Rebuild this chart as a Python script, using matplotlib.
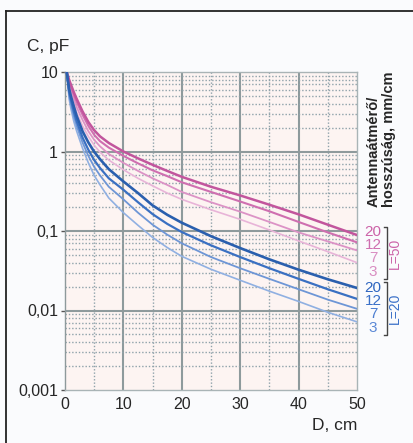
import matplotlib.pyplot as plt
from matplotlib.lines import Line2D
from matplotlib.ticker import FixedLocator, NullFormatter

plt.rcParams['font.family'] = ['Liberation Sans', 'DejaVu Sans']

# D distance, cm
D = [0.3, 0.7, 1, 1.5, 2, 3, 4, 5, 6, 7.5, 10, 12.5, 15, 17.5, 20, 25, 30, 35, 40, 45, 50]

# L=50 cm antenna, diameter 20/12/7/3 mm
L50_20 = [10, 8.0, 7.0, 5.6, 4.6, 3.2, 2.35, 1.85, 1.55, 1.28, 1.0, 0.82, 0.68, 0.57, 0.48,
          0.36, 0.28, 0.214, 0.162, 0.12, 0.089]
L50_12 = [10, 7.6, 6.6, 5.2, 4.2, 2.9, 2.1, 1.62, 1.35, 1.12, 0.88, 0.71, 0.58, 0.49, 0.41,
          0.31, 0.235, 0.177, 0.13, 0.096, 0.072]
L50_7 = [10, 7.0, 6.0, 4.6, 3.6, 2.5, 1.8, 1.4, 1.16, 0.93, 0.72, 0.57, 0.46, 0.38, 0.31,
         0.23, 0.175, 0.13, 0.096, 0.074, 0.057]
L50_3 = [10, 6.4, 5.4, 4.0, 3.1, 2.1, 1.55, 1.2, 0.98, 0.78, 0.59, 0.46, 0.37, 0.30, 0.25,
         0.185, 0.14, 0.103, 0.075, 0.055, 0.040]

# L=20 cm antenna
L20_20 = [10, 6.2, 5.0, 3.7, 2.8, 1.8, 1.3, 0.99, 0.80, 0.60, 0.42, 0.30, 0.21, 0.16, 0.127,
          0.086, 0.061, 0.044, 0.0326, 0.0247, 0.0192]
L20_12 = [10, 5.7, 4.5, 3.2, 2.4, 1.5, 1.05, 0.78, 0.62, 0.46, 0.33, 0.23, 0.163, 0.123, 0.097,
          0.066, 0.047, 0.034, 0.025, 0.0185, 0.014]
L20_7 = [10, 5.2, 4.0, 2.8, 2.1, 1.3, 0.88, 0.64, 0.50, 0.36, 0.25, 0.17, 0.12, 0.09, 0.07,
         0.047, 0.034, 0.025, 0.0185, 0.0137, 0.0105]
L20_3 = [10, 4.6, 3.5, 2.4, 1.8, 1.1, 0.72, 0.5, 0.38, 0.26, 0.17, 0.118, 0.083, 0.062, 0.048,
         0.033, 0.024, 0.0175, 0.013, 0.0095, 0.0072]

yticks = [10, 1, 0.1, 0.01, 0.001]
ylabels = ['10', '1', '0,1', '0,01', '0,001']
xticks = [0, 10, 20, 30, 40, 50]

W, H = 414, 443
def fx(px): return px / W
def fy(py): return 1 - py / H

txt = '#262626'
fig = plt.figure(figsize=(W / 100, H / 100), dpi=100)
fig.patch.set_facecolor('#fafbfd')

# frame (left + top edge only visible)
fig.add_artist(Line2D([fx(6), fx(6)], [0, fy(11)], color='#222222', lw=1.3))
fig.add_artist(Line2D([fx(6), 1], [fy(11), fy(11)], color='#222222', lw=1.3))

ax = fig.add_axes([fx(65), fy(390), (357 - 65) / W, (390 - 72) / H])
ax.set_facecolor('#fdf4f2')
ax.set_yscale('log')
ax.set_xlim(0, 50)
ax.set_ylim(0.001, 10)

# grid
dot = (0, (1, 1.4))
for x in [5, 15, 25, 35, 45]:
    ax.axvline(x, color='#8fa2aa', lw=1.0, ls=dot, zorder=1)
for x in [10, 20, 30, 40]:
    ax.axvline(x, color='#8e9a9c', lw=1.5, zorder=1)
for dec in [0.001, 0.01, 0.1, 1]:
    for m in range(2, 10):
        ax.axhline(dec * m, color='#8fa2aa', lw=1.0, ls=dot, zorder=1)
for y in [0.01, 0.1, 1]:
    ax.axhline(y, color='#8e9a9c', lw=1.5, zorder=1)

for s in ax.spines.values():
    s.set_color('#a9b4b6')
    s.set_linewidth(1.0)
ax.spines['left'].set_color('#8e9a9c')

ax.plot(D, L50_3, color='#e8b4d8', lw=1.2, zorder=3)
ax.plot(D, L50_7, color='#dc93c6', lw=1.3, zorder=3)
ax.plot(D, L50_12, color='#cf6fb0', lw=1.5, zorder=3)
ax.plot(D, L50_20, color='#c2559d', lw=1.8, zorder=3)
ax.plot(D, L20_3, color='#90b0e2', lw=1.2, zorder=3)
ax.plot(D, L20_7, color='#6e96d6', lw=1.3, zorder=3)
ax.plot(D, L20_12, color='#3a70c2', lw=1.6, zorder=3)
ax.plot(D, L20_20, color='#2a5fae', lw=1.9, zorder=3)

ax.yaxis.set_major_locator(FixedLocator(yticks))
ax.set_yticklabels(ylabels)
ax.yaxis.set_minor_formatter(NullFormatter())
ax.tick_params(axis='y', which='minor', length=0)
ax.set_xticks(xticks)
ax.tick_params(axis='both', which='major', length=3, width=1, color='#555555',
               labelsize=11.5, labelcolor=txt, pad=2)
ax.tick_params(axis='x', length=0, pad=5)

fig.text(fx(27), fy(46), 'C, pF', fontsize=12.5, color=txt, va='center', ha='left')
fig.text(fx(357), fy(426), 'D, cm', fontsize=12.5, color=txt, va='center', ha='right')

fig.text(fx(374), fy(207), 'Antennaátmérő/', rotation=90, fontsize=10.5, color=txt,
         ha='center', va='bottom', fontweight='bold')
fig.text(fx(389), fy(207), 'hosszúság, mm/cm', rotation=90, fontsize=10.5, color=txt,
         ha='center', va='bottom', fontweight='bold')

# diameter labels next to curve ends
pk = ['#cc63a8', '#cf6fb0', '#d98dc2', '#d98dc2']
bl = ['#2f66c0', '#3a70c8', '#4a7cd0', '#5a88d6']
for lab, py, c in zip(['20', '12', '7', '3'], [232, 245, 258, 272], pk):
    fig.text(fx(373), fy(py), lab, fontsize=11, color=c, ha='center', va='center')
for lab, py, c in zip(['20', '12', '7', '3'], [288, 301, 314, 328], bl):
    fig.text(fx(373), fy(py), lab, fontsize=11, color=c, ha='center', va='center')

# brackets
for top, bot in [(227, 279), (282, 335)]:
    fig.add_artist(Line2D([fx(384), fx(387), fx(387), fx(384)],
                          [fy(top), fy(top), fy(bot), fy(bot)], color='#444444', lw=1.0))
fig.text(fx(395), fy(253), 'L=50', rotation=90, fontsize=10, color='#cc63a8',
         ha='center', va='center')
fig.text(fx(395), fy(308), 'L=20', rotation=90, fontsize=10, color='#3a70c8',
         ha='center', va='center')

fig.savefig('out.png', dpi=100, facecolor=fig.get_facecolor())
